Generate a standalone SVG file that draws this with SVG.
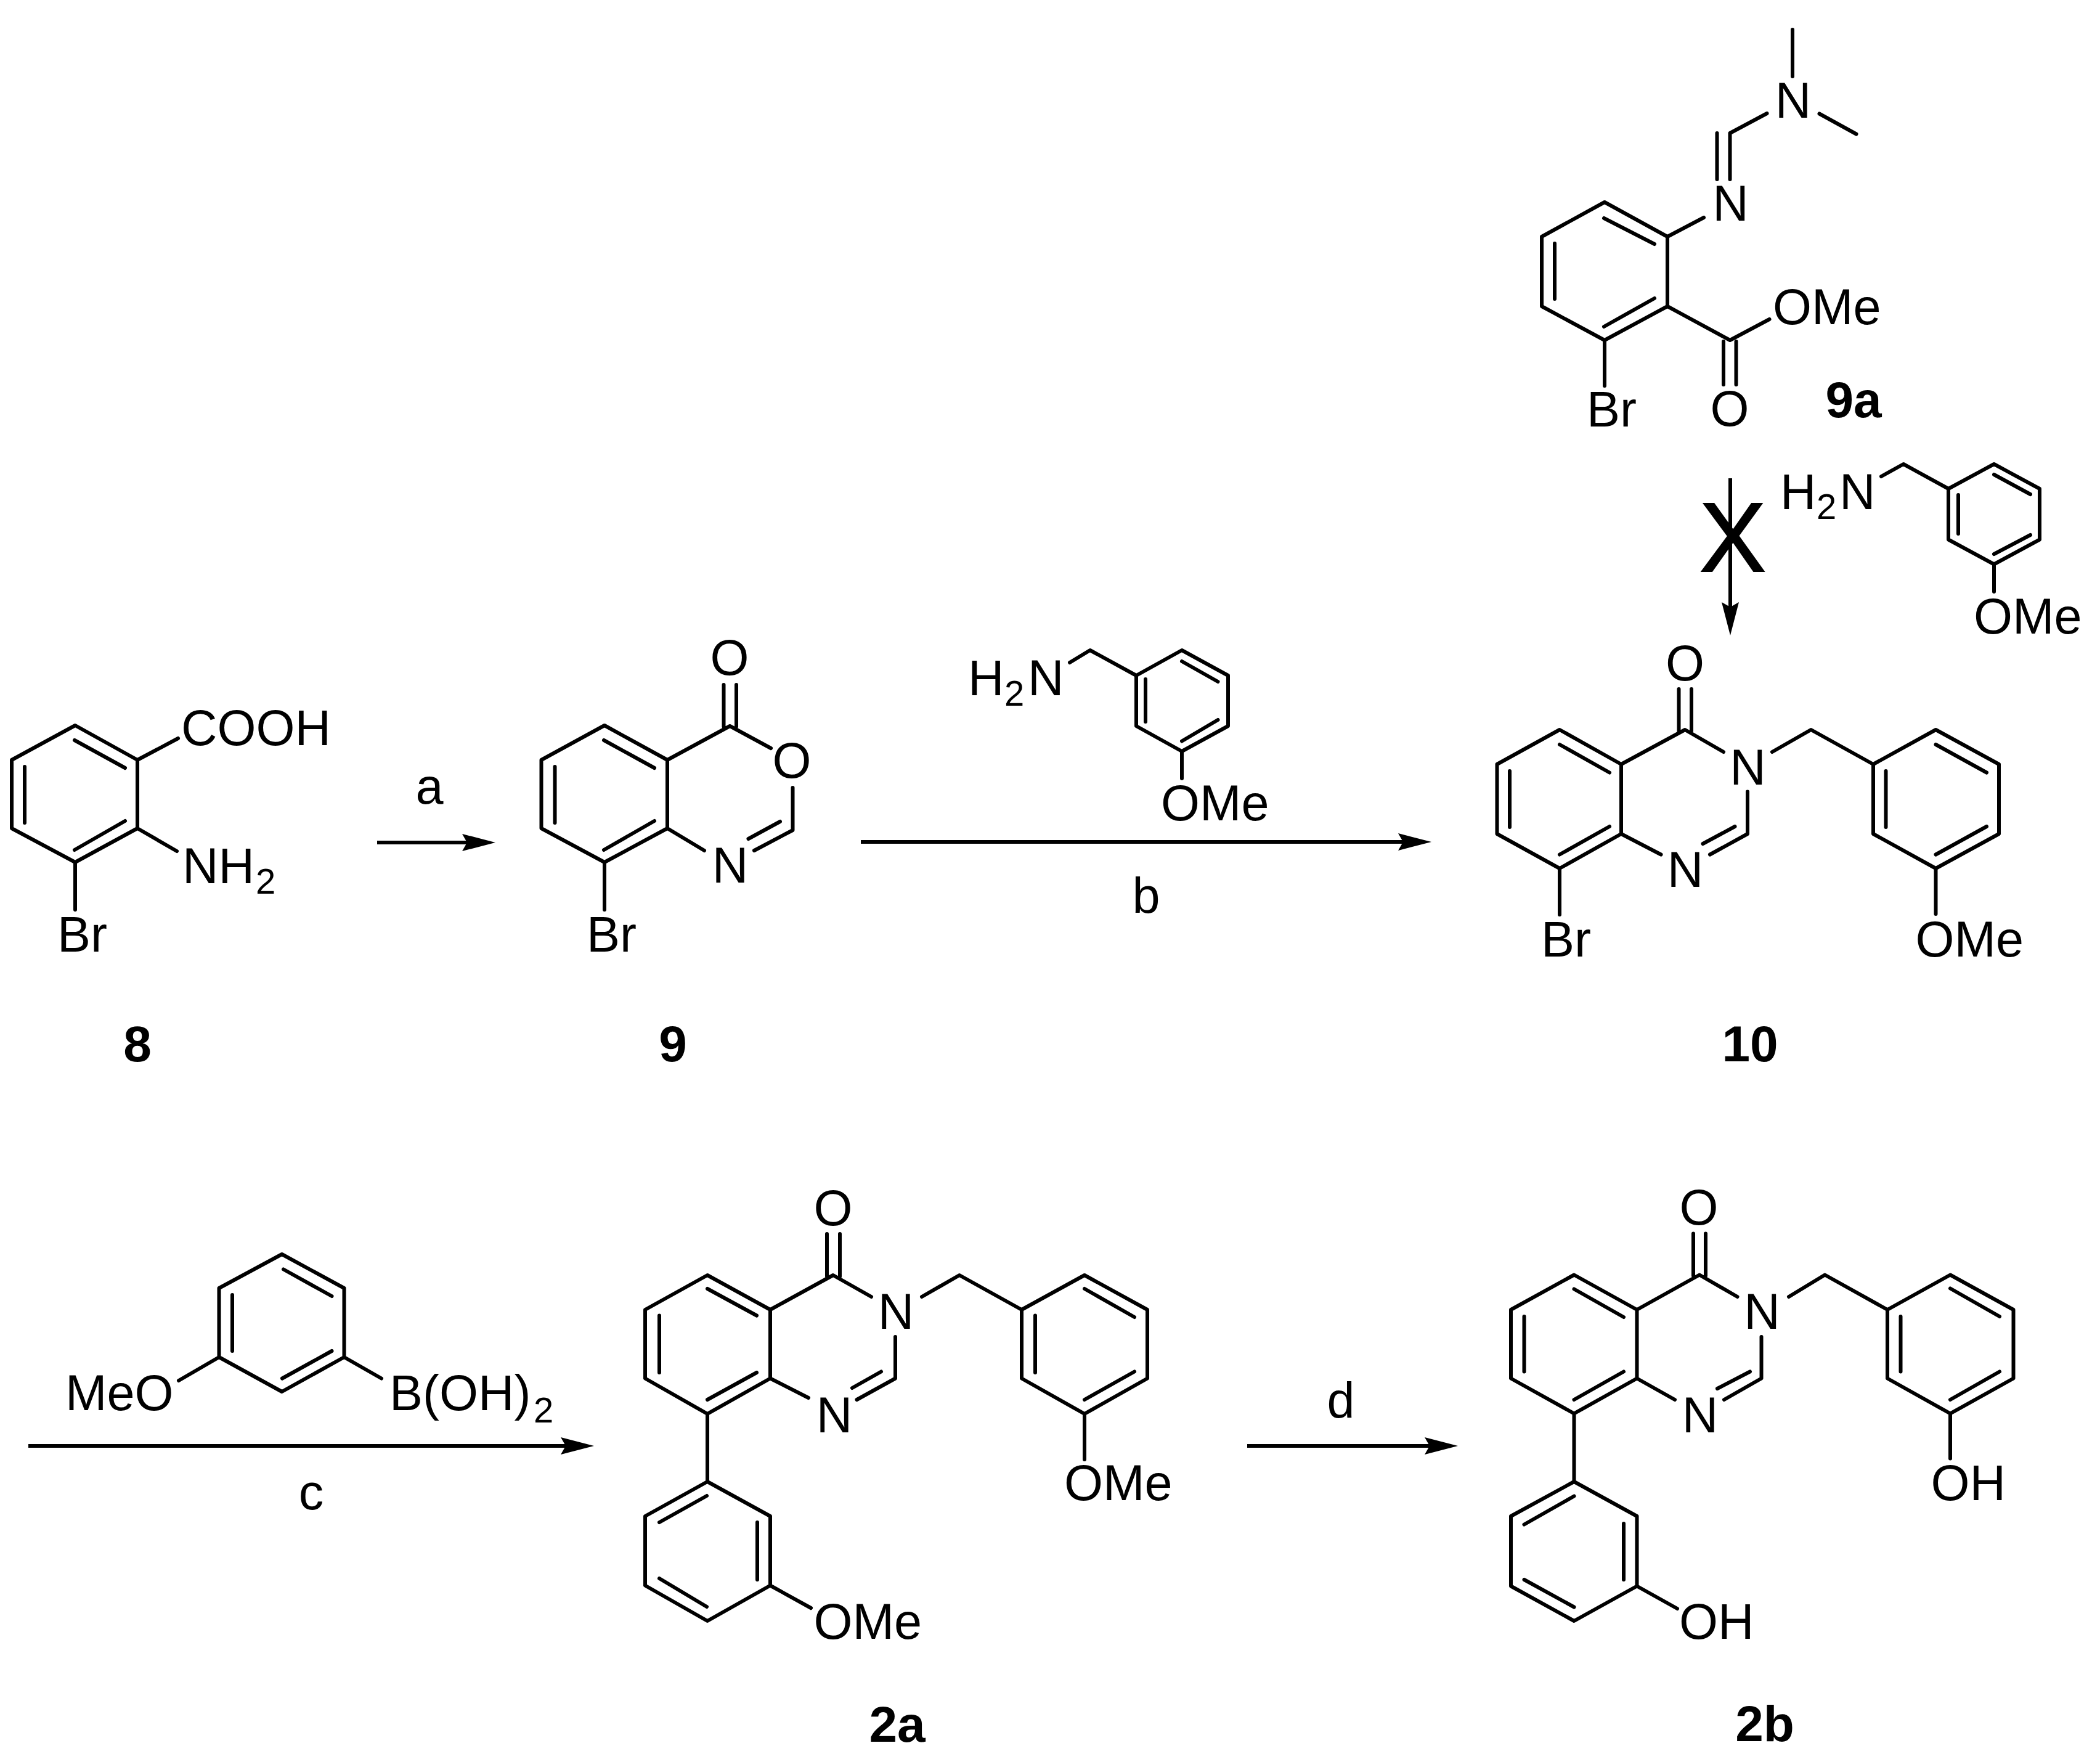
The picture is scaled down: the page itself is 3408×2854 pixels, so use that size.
<svg xmlns="http://www.w3.org/2000/svg" width="3408" height="2854" viewBox="0 0 3408 2854">
<style>
.b{fill:none;stroke:#000;stroke-width:6;stroke-linecap:round;stroke-linejoin:round}
.a{fill:none;stroke:#000;stroke-width:6}
text{font-family:"Liberation Sans",Arial,sans-serif;fill:#000;font-size:81px}
.m{text-anchor:middle}
.s{font-size:58px}
.l{font-weight:bold;font-size:82px;text-anchor:middle}
.x{font-size:159px;stroke:#000;stroke-width:2}
</style>
<defs>
<marker id="head" markerUnits="userSpaceOnUse" markerWidth="60" markerHeight="34" viewBox="0 0 60 34" refX="8" refY="17" orient="auto"><path d="M0,3L54,17L0,31L8,17Z" fill="#000"/></marker>
</defs>
<rect width="3408" height="2854" fill="#fff"/>
<g id="connectors">
<path class="a" d="M612,1367H758" marker-end="url(#head)"/>
<path class="a" d="M1397,1366H2277" marker-end="url(#head)"/>
<path class="a" d="M46,2346H918" marker-end="url(#head)"/>
<path class="a" d="M2024,2346H2320" marker-end="url(#head)"/>
<path class="a" d="M2808,776V985" marker-end="url(#head)"/>
</g>
<g id="label-a"><text class="m" x="697" y="1304">a</text></g>
<g id="label-b"><text class="m" x="1860" y="1481">b</text></g>
<g id="label-c"><text class="m" x="505" y="2449">c</text></g>
<g id="label-d"><text class="m" x="2176" y="2300">d</text></g>
<g id="blocked-x"><text class="x m" x="2812" y="927" textLength="108" lengthAdjust="spacingAndGlyphs">X</text></g>

<g id="compound-8">
<path class="b" d="M122,1177L223,1233V1344L122,1399L19,1344V1233ZM121,1201L203,1246M40,1244V1335M203,1332L121,1379M223,1233L289,1198M223,1344L287,1381M122,1399V1476"/>
<text x="294" y="1209">COOH</text>
<text x="296" y="1433">NH<tspan class="s" x="415" y="1450">2</tspan></text>
<text x="93" y="1544">Br</text>
<text class="l" x="223" y="1722">8</text>
</g>

<g id="compound-9">
<path class="b" d="M981,1177L1083,1233V1344L981,1399L878.500,1344V1233ZM980,1201L1062,1246M900.500,1244V1335M1062,1332L980,1379M981,1399V1476M1083,1233L1184.500,1178L1251,1214M1174.500,1111V1179M1195,1111V1179M1083,1344L1143,1380M1286.500,1278V1347L1224,1380M1266,1333L1214.500,1361"/>
<text class="m" x="1184" y="1095">O</text>
<text class="m" x="1285" y="1262">O</text>
<text class="m" x="1185" y="1432">N</text>
<text x="952" y="1544">Br</text>
<text class="l" x="1092" y="1722">9</text>
</g>

<g id="amine-b">
<path class="b" d="M1736,1075L1769,1055L1844,1096L1918,1055L1993,1096V1178L1918,1219L1844,1178V1096M1918,1073L1976.500,1106M1859,1102V1171M1976.500,1168L1918,1202.500M1918,1219V1263"/>
<text x="1571" y="1127.500">H<tspan class="s" x="1630" y="1145">2</tspan><tspan x="1668" y="1127.500">N</tspan></text>
<text x="1884" y="1330.500">OMe</text>
</g>

<g id="compound-9a">
<path class="b" d="M2604,328L2706,384V497L2604,552L2502,497V384ZM2603,354L2685,396M2523,395V485M2685,484L2603,530M2706,384L2765,353M2807.500,291V216L2867.500,184M2786.500,291V216M2909,48V124M2952.500,184.500L3012.500,217.500M2706,497L2807.500,552L2871.500,518M2797,554V624M2817.500,554V624M2604,552V626"/>
<text class="m" x="2808.500" y="358">N</text>
<text class="m" x="2910" y="191">N</text>
<text x="2877" y="526">OMe</text>
<text class="m" x="2807" y="691">O</text>
<text x="2575" y="692">Br</text>
<text class="l" x="3008" y="677">9a</text>
</g>

<g id="amine-9a">
<path class="b" d="M3053,773L3089,753L3162,793L3236,753L3310,793V875.500L3236,915.500L3162,875.500V793M3236,770L3295,802M3178,803V866M3295,868L3236,899M3236,915.500V960"/>
<text x="2889" y="826">H<tspan class="s" x="2948" y="842">2</tspan><tspan x="2985" y="826">N</tspan></text>
<text x="3203" y="1028">OMe</text>
</g>

<g id="compound-10">
<path class="b" d="M2531,1184L2631,1240V1353L2531,1409L2429.500,1353V1240ZM2531,1208L2612,1253.500M2450,1251V1342M2612,1341L2531,1386.500M2531,1409V1484M2631,1240L2734.500,1184L2797,1220M2724.500,1118V1186M2745,1118V1186M2631,1353L2695.500,1386.500M2836,1284.500V1353L2775,1386.500M2815.500,1341L2763.500,1369M2876,1220L2939,1184L3040,1240L3141.500,1184L3244,1240V1353L3141.500,1409L3040,1353V1240M3141.500,1208L3224,1253.500M3060.500,1251V1342M3224,1341L3141.500,1386.500M3141.500,1409V1483"/>
<text class="m" x="2734.500" y="1104">O</text>
<text class="m" x="2836.500" y="1272.500">N</text>
<text class="m" x="2735" y="1439">N</text>
<text x="2501" y="1551.500">Br</text>
<text x="3108.500" y="1551.500">OMe</text>
<text class="l" x="2840" y="1722">10</text>
</g>

<g id="boronic-acid">
<path class="b" d="M457.500,2035L558.500,2090V2202L457.500,2258L355.500,2202V2090ZM460,2059.500L538.500,2103M377,2101V2192M538.500,2192L458,2236.500M355.500,2202L290,2240M558.500,2202L619,2236.500"/>
<text x="106" y="2288">MeO</text>
<text x="632" y="2288">B(OH)<tspan class="s" x="866" y="2308">2</tspan></text>
</g>

<g id="compound-2a">
<path class="b" d="M1148,2069L1250,2125V2236.500L1148,2294L1047,2236.500V2125ZM1148,2091L1228,2134.500M1070,2134.500V2227M1228,2227L1148,2271M1250,2125L1352,2069L1414,2104M1342,2002V2071M1363,2002V2071M1250,2236.500L1312,2268M1453,2169V2236.500L1390.500,2271M1430,2225.500L1383,2252M1496,2104L1557,2069L1658,2125L1760,2069L1862,2125V2236.500L1760,2294L1658,2236.500V2125M1760,2091L1841,2137M1680,2134.500V2227M1841,2225.500L1760,2271M1760,2294V2368M1148,2294V2404M1148,2404L1250,2460V2572.500L1148,2630L1047,2572.500V2460ZM1147,2427L1070,2470M1229,2470V2563M1070,2561L1147,2607M1250,2572.500L1316,2609"/>
<text class="m" x="1352" y="1988">O</text>
<text class="m" x="1454" y="2156">N</text>
<text class="m" x="1354" y="2323.500">N</text>
<text x="1727" y="2434">OMe</text>
<text x="1320.500" y="2659">OMe</text>
<text class="l" x="1456" y="2826">2a</text>
</g>

<g id="compound-2b">
<path class="b" d="M2554.500,2068.500L2656.500,2125V2236.500L2554.500,2293.500L2452,2236.500V2125ZM2554.500,2091.500L2635,2137M2473.500,2136V2225.500M2635,2225.500L2554.500,2271M2656.500,2125L2758,2068.500L2819.500,2104M2748,2001.500V2070M2768,2001.500V2070M2656.500,2236.500L2718,2271M2858.500,2169V2236.500L2798,2271M2840,2225.500L2787,2253M2903,2104L2961.500,2068.500L3063,2125L3165,2068.500L3267.500,2125V2236.500L3165,2293.500L3063,2236.500V2125M3165,2090.500L3245,2136M3084.500,2136V2225.500M3245,2225.500L3165,2271M3165,2293.500V2366.500M2554.500,2293.500V2404M2554.500,2404L2656.500,2460V2573.500L2554.500,2630L2452,2573.500V2460ZM2554.500,2427.500L2473.500,2473.500M2635,2472V2563M2473.500,2563L2554.500,2607.500M2656.500,2573.500L2722,2610"/>
<text class="m" x="2757" y="1987">O</text>
<text class="m" x="2859.500" y="2155.500">N</text>
<text class="m" x="2759" y="2324">N</text>
<text x="3133.500" y="2434">OH</text>
<text x="2725" y="2659">OH</text>
<text class="l" x="2864" y="2825">2b</text>
</g>
</svg>
